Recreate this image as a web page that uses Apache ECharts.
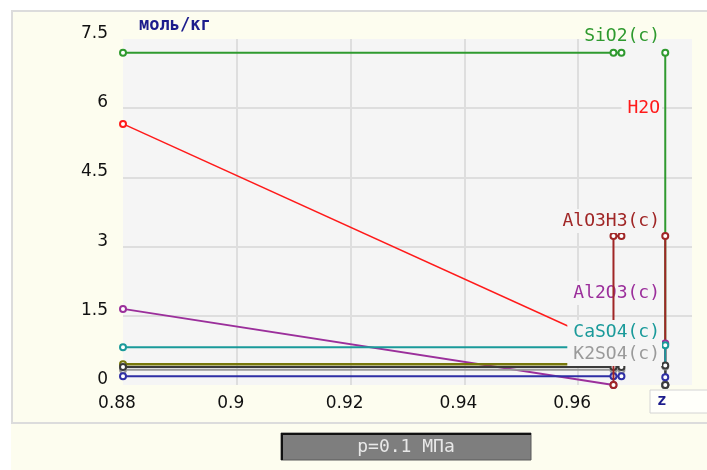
<!DOCTYPE html>
<html>
<head>
<meta charset="utf-8">
<script src="https://cdn.jsdelivr.net/npm/echarts@6/dist/echarts.min.js"></script>
<style>
html,body{margin:0;padding:0;background:#ffffff;}
#c{width:707px;height:470px;}
</style>
</head>
<body>
<div id="c"></div>
<script>
// ---- data (x = z, y = моль/кг) ----
const xMin = 0.88, xMax = 0.98, xStep = 0.02;
const yMin = 0, yMax = 7.5, yStep = 1.5;

const sio2Main   = [[0.88, 7.2], [0.9662, 7.2], [0.9676, 7.2]];
const sio2Tail   = [[0.9753, 7.2], [0.9753, 0]];
const h2oMain    = [[0.88, 5.66], [0.9662, 0.83]];
const alo3h3Main = [[0.9662, 0], [0.9662, 3.23], [0.9676, 3.23]];
const alo3h3Tail = [[0.9753, 3.23], [0.9753, 0]];
const al2o3Main  = [[0.88, 1.65], [0.9662, 0]];
const al2o3Tail  = [[0.9753, 0.9], [0.9753, 0]];
const caso4Main  = [[0.88, 0.82], [0.9662, 0.82]];
const caso4Tail  = [[0.9753, 0.86], [0.9753, 0]];
const oliveMain  = [[0.88, 0.45], [0.9662, 0.45]];
const blackMain  = [[0.88, 0.39], [0.9662, 0.39], [0.9676, 0.39]];
const blackTail  = [[0.9753, 0.42], [0.9753, 0]];
const k2so4Main  = [[0.88, 0.33], [0.9662, 0.33], [0.9676, 0.33]];
const k2so4Tail  = [[0.9753, 0.40], [0.9753, 0]];
const blueMain   = [[0.88, 0.19], [0.9662, 0.19], [0.9676, 0.19]];
const blueTail   = [[0.9753, 0.17]];

const names = {
  sio2: 'SiO2(c)', h2o: 'H2O', alo3h3: 'AlO3H3(c)', al2o3: 'Al2O3(c)',
  caso4: 'CaSO4(c)', k2so4: 'K2SO4(c)', olive: 'other 1', black: 'other 2', blue: 'other 3'
};
const yName = 'моль/кг';
const xName = 'z';
const caption = 'p=0.1 МПа';

// ---- styles ----
const colors = {
  sio2: '#2f9a2f', h2o: '#ff1a1a', alo3h3: '#a02626', al2o3: '#9b2f9b',
  caso4: '#1a9a9a', k2so4: '#9a9a9a', olive: '#77770a', black: '#3a3a3a', blue: '#2f2fa5'
};

function lineSeries(key, data, z, width) {
  return {
    type: 'line', name: names[key], data: data, z: z,
    symbol: 'emptyCircle', symbolSize: 6, showSymbol: true,
    lineStyle: { color: colors[key], width: width || 2 },
    itemStyle: { color: colors[key], borderWidth: 1.5 },
    emphasis: { disabled: true }, silent: true
  };
}

const series = [
  // tails (vertical drops at the end), drawn bottom-up
  lineSeries('sio2', sio2Tail, 2),
  lineSeries('alo3h3', alo3h3Tail, 2),
  lineSeries('al2o3', al2o3Tail, 2),
  lineSeries('caso4', caso4Tail, 2),
  lineSeries('k2so4', k2so4Tail, 2),
  lineSeries('black', blackTail, 2),
  lineSeries('blue', blueTail, 2),
  // main curves
  lineSeries('sio2', sio2Main, 2),
  lineSeries('h2o', h2oMain, 2, 1.5),
  lineSeries('al2o3', al2o3Main, 2),
  lineSeries('caso4', caso4Main, 2),
  lineSeries('olive', oliveMain, 2, 2.5),
  lineSeries('k2so4', k2so4Main, 2),
  lineSeries('black', blackMain, 2),
  lineSeries('blue', blueMain, 2),
  lineSeries('alo3h3', alo3h3Main, 6)
];

const labelFont = '18px "DejaVu Sans Mono"';
function seriesLabel(key, y, z, bg) {
  return {
    type: 'text', z: z, x: 662, y: y,
    style: {
      text: names[key], fill: colors[key], font: labelFont,
      align: 'right', verticalAlign: 'middle',
      backgroundColor: bg ? '#f5f5f5' : 'transparent',
      padding: [3, 2, 3, 6], lineHeight: 18
    },
    silent: true
  };
}

const chart = echarts.init(document.getElementById('c'), null, { renderer: 'canvas' });
chart.setOption({
  animation: false,
  backgroundColor: '#fdfdef',
  grid: {
    left: 123, top: 39, width: 569, height: 346,
    show: true, backgroundColor: '#f5f5f5', borderWidth: 0
  },
  xAxis: {
    type: 'value', min: xMin, max: xMax, interval: xStep,
    axisLine: { show: false }, axisTick: { show: false },
    splitLine: { show: true, showMinLine: false, showMaxLine: false, lineStyle: { color: '#dedede', width: 2 } },
    axisLabel: {
      showMaxLabel: false, margin: 10, color: '#111', padding: [0, 12, 0, 0],
      fontFamily: 'DejaVu Sans', fontSize: 17,
      formatter: v => String(Math.round(v * 100) / 100)
    }
  },
  yAxis: {
    type: 'value', min: yMin, max: yMax, interval: yStep,
    name: yName, nameLocation: 'end', nameGap: 13,
    nameTextStyle: {
      align: 'left', verticalAlign: 'middle', padding: [0, 0, 0, 16],
      color: '#1c1c8c', fontFamily: 'DejaVu Sans Mono', fontWeight: 'bold', fontSize: 17
    },
    axisLine: { show: false }, axisTick: { show: false },
    splitLine: { show: true, showMinLine: false, showMaxLine: false, lineStyle: { color: '#dedede', width: 2 } },
    axisLabel: {
      margin: 15, color: '#111', verticalAlign: 'bottom', lineHeight: 11,
      fontFamily: 'DejaVu Sans', fontSize: 17
    }
  },
  graphic: [
    // white page margins and frame
    { type: 'rect', z: -5, silent: true, shape: { x: 0, y: 0, width: 707, height: 10 }, style: { fill: '#ffffff' } },
    { type: 'rect', z: -5, silent: true, shape: { x: 0, y: 0, width: 11, height: 470 }, style: { fill: '#ffffff' } },
    { type: 'rect', z: -4, silent: true, shape: { x: 12, y: 11, width: 720, height: 412 }, style: { fill: 'none', stroke: '#dcdcdc', lineWidth: 2 } },
    // series labels
    seriesLabel('sio2', 36, 10, false),
    seriesLabel('h2o', 108, 10, true),
    seriesLabel('alo3h3', 221, 10, true),
    seriesLabel('al2o3', 293, 5, true),
    seriesLabel('caso4', 332, 10, true),
    seriesLabel('k2so4', 354, 10, true),
    // x axis name box
    { type: 'rect', z: 10, silent: true, shape: { x: 650, y: 390, width: 70, height: 23 }, style: { fill: '#fffffa', stroke: '#d4d4d4', lineWidth: 1 } },
    { type: 'text', z: 11, silent: true, x: 657, y: 401, style: { text: xName, fill: '#1c1c8c', font: 'bold 16px "DejaVu Sans Mono"', align: 'left', verticalAlign: 'middle' } },
    // caption bar
    { type: 'rect', z: 10, silent: true, shape: { x: 281, y: 433, width: 250, height: 27 }, style: { fill: '#7e7e7e', stroke: '#5a5a5a', lineWidth: 1 } },
    { type: 'polyline', z: 11, silent: true, shape: { points: [[282, 460], [282, 434], [531, 434]] }, style: { stroke: '#111', lineWidth: 2, fill: null } },
    { type: 'text', z: 12, silent: true, x: 406, y: 447, style: { text: caption, fill: '#e8e8e8', font: '18px "DejaVu Sans Mono"', align: 'center', verticalAlign: 'middle' } }
  ],
  series: series
});
</script>
</body>
</html>
